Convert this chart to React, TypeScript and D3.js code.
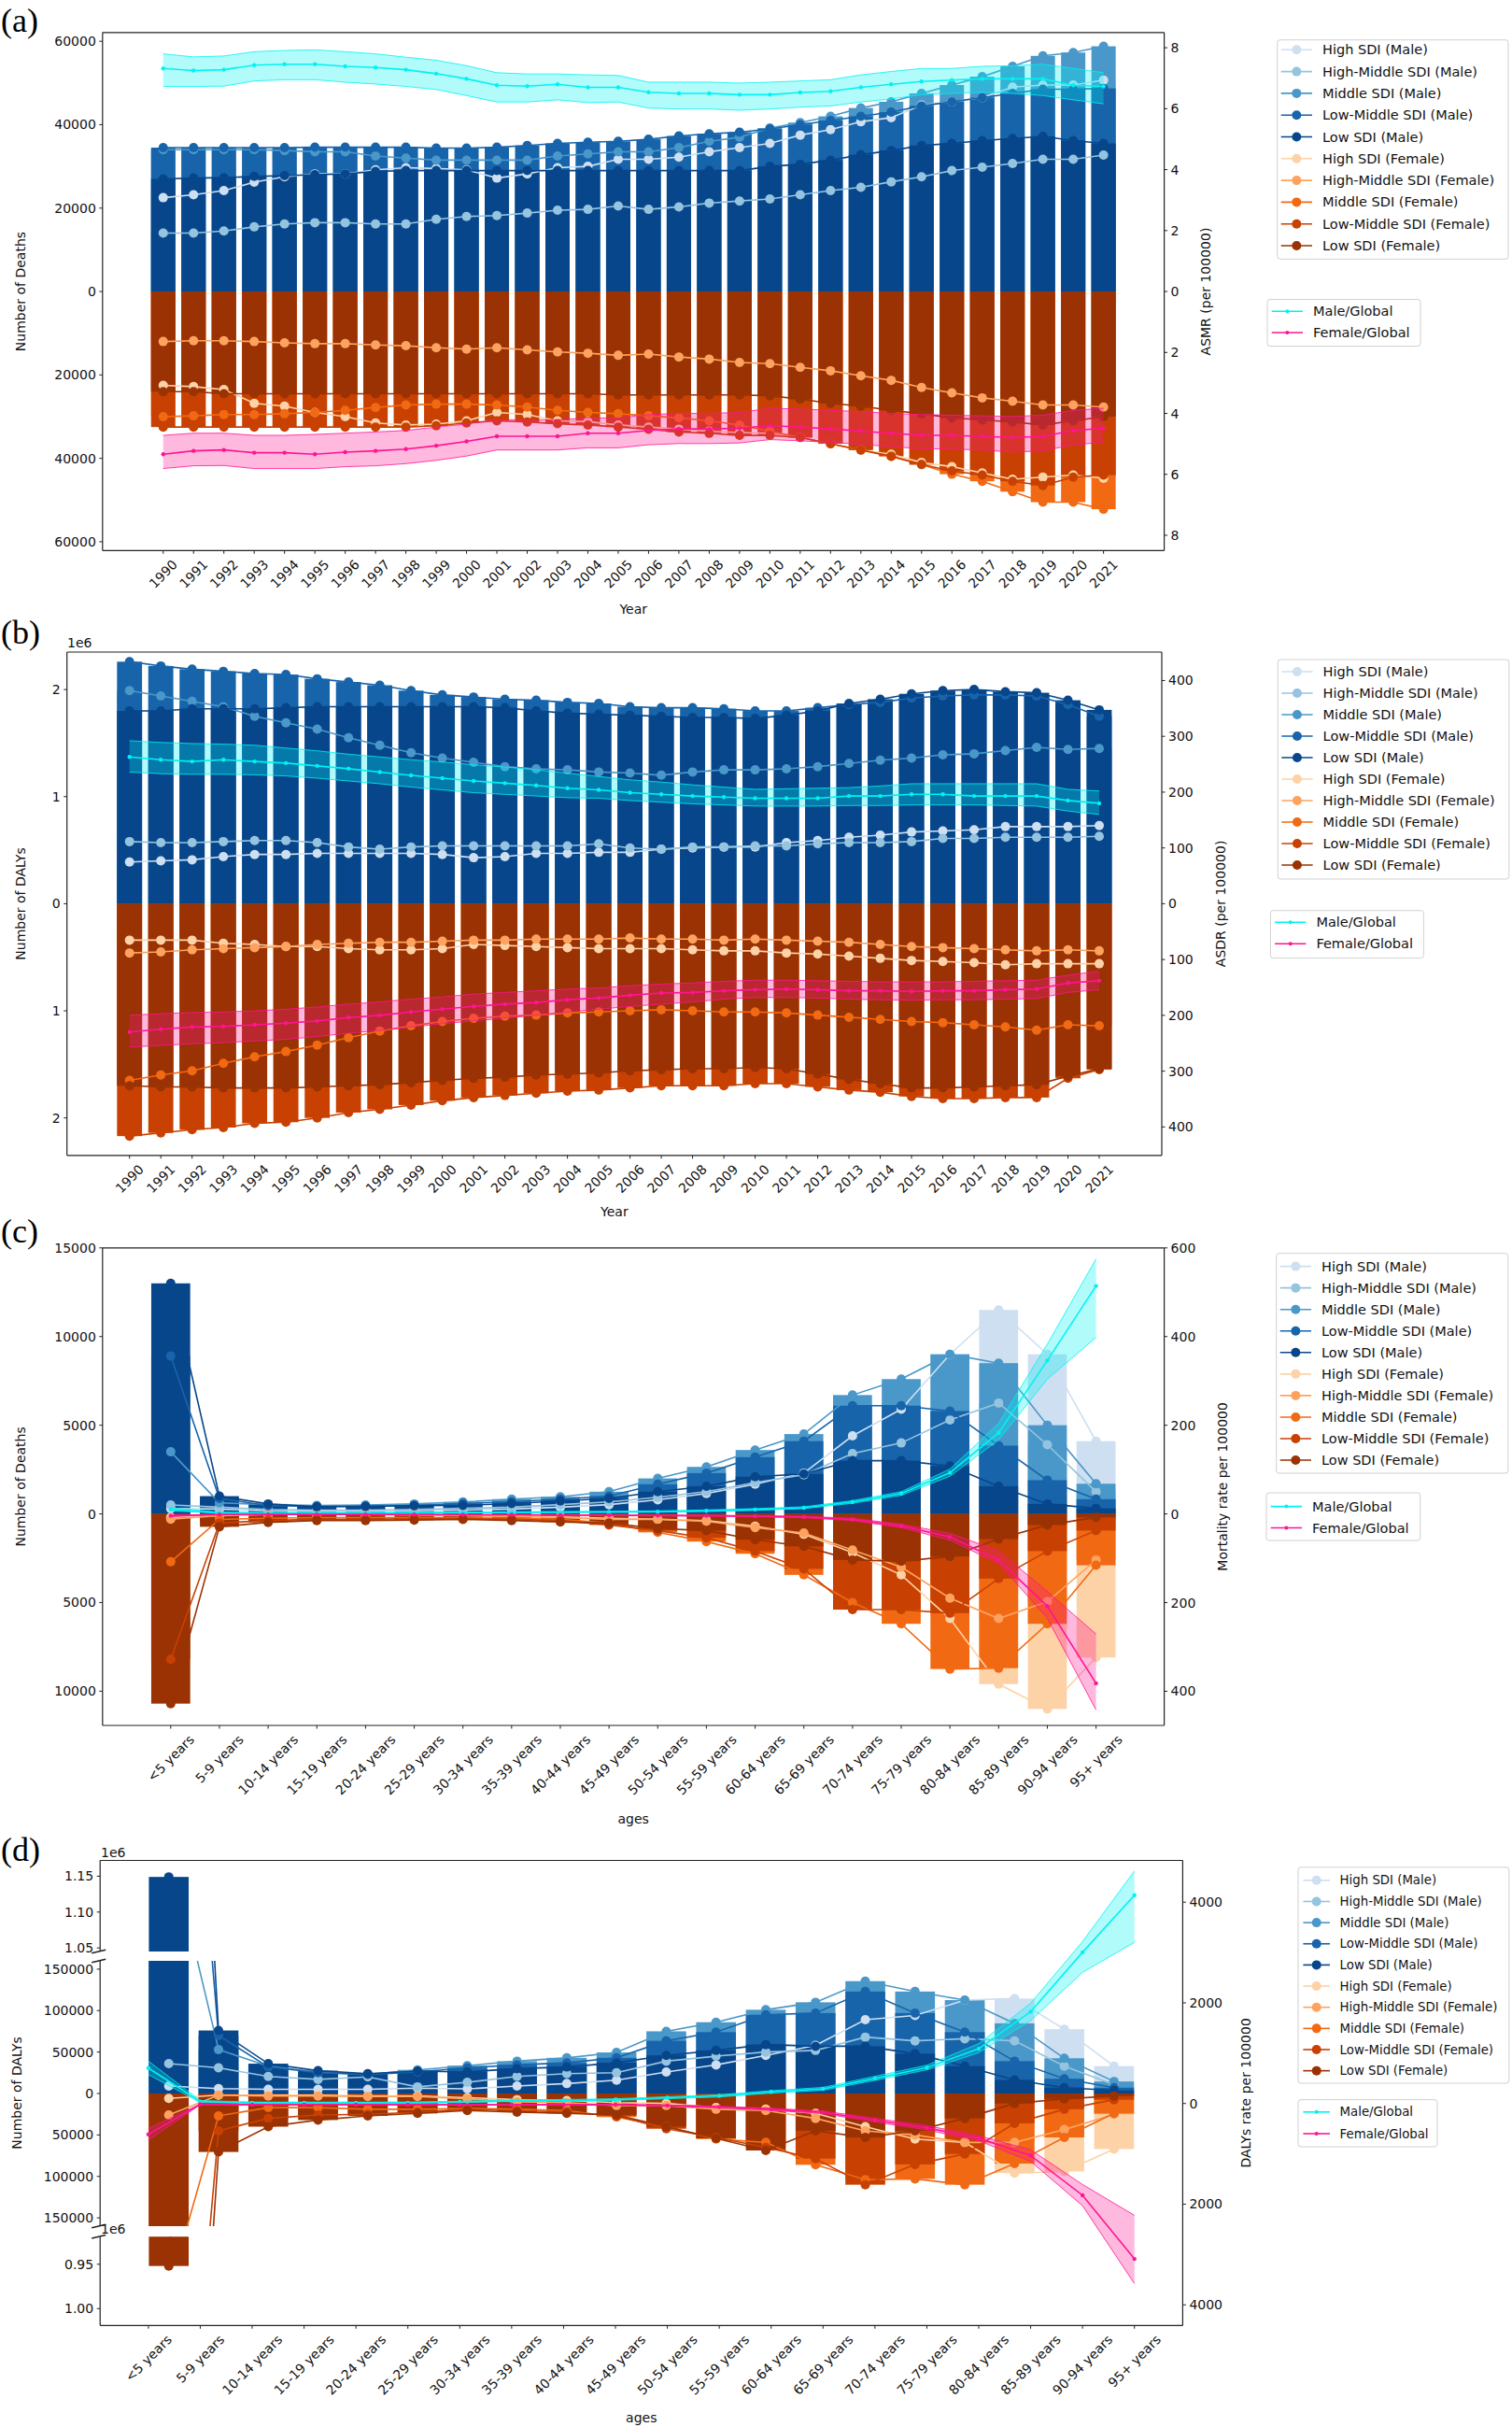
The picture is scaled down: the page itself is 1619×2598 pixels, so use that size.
import * as d3 from 'd3';
import * as React from 'react';

const W = 1619;
const H = 2598;
const SANS = "'DejaVu Sans', Verdana, sans-serif";
const SERIF = "'Liberation Serif', 'Times New Roman', serif";
const TICK_FS = 14;

const YEARS = d3.range(1990, 2022).map(String);
const AGES = [
  '<5 years', '5-9 years', '10-14 years', '15-19 years', '20-24 years', '25-29 years',
  '30-34 years', '35-39 years', '40-44 years', '45-49 years', '50-54 years', '55-59 years',
  '60-64 years', '65-69 years', '70-74 years', '75-79 years', '80-84 years', '85-89 years',
  '90-94 years', '95+ years',
];
const SDI_NAMES = ['High SDI', 'High-Middle SDI', 'Middle SDI', 'Low-Middle SDI', 'Low SDI'];
const BLUES = ['#cddff1', '#94c4df', '#4a98c9', '#1764ab', '#08468b'];
const ORANGES = ['#fdd2a7', '#fda35f', '#f16913', '#c84102', '#9a3203'];
const CYAN = '#00f2f2';
const PINK = '#ff1493';

// (a) deaths by year
const aHighM = [22500, 23200, 24200, 26200, 27500, 28200, 28200, 29200, 29700, 29500, 29200, 27200, 28200, 29700, 30000, 31700, 31700, 32200, 33500, 34500, 35500, 37500, 38800, 40700, 41700, 44700, 45500, 46500, 49000, 49500, 49500, 50700];
const aHMidM = [14000, 14000, 14500, 15500, 16200, 16500, 16500, 16200, 16200, 17300, 18000, 18200, 18800, 19500, 19700, 20500, 19700, 20300, 21200, 21700, 22200, 23200, 24200, 25000, 26300, 27500, 29000, 29800, 30700, 31700, 31700, 32700];
const aMidM = [34000, 34000, 34000, 34000, 33800, 33500, 33500, 32500, 32000, 31500, 31500, 31500, 31500, 32500, 33000, 33500, 33500, 34500, 36000, 37000, 39200, 40500, 42000, 44000, 45500, 47500, 49500, 51500, 54000, 56500, 57300, 58800];
const aLMidM = [34500, 34500, 34500, 34500, 34500, 34600, 34600, 34600, 34600, 34400, 34400, 34600, 35000, 35500, 35800, 36000, 36500, 37300, 37800, 38200, 39000, 40000, 41000, 42000, 43000, 44500, 45500, 46500, 47500, 48500, 48500, 48700];
const aLowM = [27000, 27200, 27300, 27600, 27800, 28000, 28200, 28800, 29000, 29000, 29000, 29000, 29000, 29000, 29000, 29000, 29000, 29000, 29000, 29000, 30000, 30500, 31500, 32800, 33800, 35000, 35500, 36200, 36700, 37200, 36200, 35500];
const aHighF = [22500, 22800, 23500, 26800, 27500, 29000, 30000, 31500, 32000, 31800, 31000, 29000, 29500, 31000, 31200, 32000, 32500, 33000, 33500, 33800, 34000, 35000, 36500, 38000, 39000, 41000, 42000, 43500, 45000, 44500, 44000, 44800];
const aHMidF = [12000, 11800, 11800, 12000, 12300, 12500, 12500, 12800, 13000, 13500, 13800, 13500, 14000, 14500, 14800, 15300, 15000, 15700, 16200, 17000, 17300, 18200, 19000, 20200, 21300, 23000, 24300, 25500, 26300, 27200, 27200, 27700];
const aMidF = [30000, 29800, 29500, 29500, 29300, 29000, 28500, 27800, 27200, 27000, 27000, 27200, 27700, 28500, 29000, 29300, 29800, 30300, 31000, 32000, 33500, 35000, 36500, 38000, 39500, 41500, 43800, 45500, 48000, 50500, 50500, 52200];
const aLMidF = [32500, 32500, 32500, 32500, 32500, 32500, 32500, 32500, 32500, 32200, 31500, 31000, 31300, 31700, 32000, 32500, 33000, 33700, 34000, 34500, 34500, 35000, 36500, 38000, 39500, 41500, 43000, 44000, 45500, 46500, 44500, 44000];
const aLowF = [24000, 24000, 24500, 24500, 24500, 24500, 24500, 24500, 24500, 24500, 24500, 24500, 24500, 24500, 24500, 24800, 24800, 24800, 24800, 24800, 25000, 25800, 26800, 27500, 28500, 29300, 30300, 30800, 31300, 32000, 31000, 30000];
const aAsmrM = [7.32, 7.25, 7.28, 7.43, 7.46, 7.46, 7.39, 7.35, 7.28, 7.15, 6.98, 6.77, 6.74, 6.8, 6.7, 6.7, 6.54, 6.5, 6.5, 6.46, 6.46, 6.53, 6.57, 6.7, 6.8, 6.89, 6.94, 6.98, 6.98, 6.98, 6.77, 6.73];
const aAsmrMHi = [7.8, 7.7, 7.73, 7.87, 7.91, 7.93, 7.87, 7.8, 7.69, 7.59, 7.41, 7.18, 7.14, 7.14, 7.11, 7.09, 6.87, 6.87, 6.87, 6.84, 6.87, 6.91, 6.95, 7.11, 7.22, 7.32, 7.32, 7.39, 7.41, 7.46, 7.32, 7.18];
const aAsmrMLo = [6.73, 6.73, 6.74, 6.91, 6.95, 6.95, 6.87, 6.81, 6.73, 6.63, 6.43, 6.22, 6.22, 6.29, 6.2, 6.22, 6.02, 5.99, 5.99, 5.95, 5.99, 6.05, 6.09, 6.22, 6.32, 6.46, 6.5, 6.54, 6.5, 6.43, 6.29, 6.16];
const aAsmrF = [5.34, 5.23, 5.2, 5.29, 5.29, 5.34, 5.27, 5.23, 5.17, 5.06, 4.92, 4.75, 4.75, 4.75, 4.65, 4.65, 4.56, 4.51, 4.51, 4.49, 4.4, 4.45, 4.51, 4.58, 4.65, 4.72, 4.72, 4.76, 4.79, 4.76, 4.56, 4.49];
const aAsmrFHi = [4.72, 4.65, 4.65, 4.72, 4.72, 4.69, 4.65, 4.61, 4.56, 4.45, 4.35, 4.21, 4.21, 4.21, 4.15, 4.15, 4.04, 4.0, 4.0, 3.97, 3.83, 3.86, 3.9, 3.94, 4.0, 4.04, 4.06, 4.08, 4.1, 4.06, 3.9, 3.83];
const aAsmrFLo = [5.81, 5.72, 5.71, 5.81, 5.81, 5.81, 5.75, 5.72, 5.65, 5.54, 5.4, 5.2, 5.2, 5.2, 5.13, 5.13, 5.03, 4.99, 4.99, 4.97, 4.86, 4.9, 4.95, 5.02, 5.09, 5.16, 5.17, 5.2, 5.27, 5.23, 5.03, 4.95];

// (b) DALYs by year, millions
const bHighM = [0.39, 0.4, 0.41, 0.44, 0.46, 0.46, 0.47, 0.47, 0.47, 0.47, 0.46, 0.43, 0.44, 0.47, 0.47, 0.48, 0.48, 0.51, 0.52, 0.53, 0.53, 0.57, 0.59, 0.62, 0.64, 0.67, 0.68, 0.69, 0.72, 0.72, 0.72, 0.73];
const bHMidM = [0.58, 0.57, 0.57, 0.58, 0.59, 0.59, 0.57, 0.53, 0.51, 0.53, 0.54, 0.54, 0.54, 0.54, 0.54, 0.56, 0.52, 0.51, 0.53, 0.53, 0.54, 0.54, 0.56, 0.57, 0.57, 0.58, 0.61, 0.61, 0.62, 0.62, 0.62, 0.63];
const bMidM = [1.99, 1.94, 1.89, 1.84, 1.75, 1.69, 1.63, 1.55, 1.48, 1.41, 1.36, 1.32, 1.28, 1.26, 1.25, 1.23, 1.22, 1.2, 1.23, 1.25, 1.25, 1.26, 1.28, 1.31, 1.34, 1.36, 1.39, 1.4, 1.43, 1.46, 1.44, 1.45];
const bLMidM = [2.26, 2.22, 2.19, 2.17, 2.15, 2.14, 2.1, 2.07, 2.04, 1.99, 1.95, 1.93, 1.91, 1.9, 1.88, 1.87, 1.84, 1.83, 1.83, 1.82, 1.8, 1.8, 1.83, 1.86, 1.88, 1.92, 1.94, 1.95, 1.95, 1.94, 1.86, 1.75];
const bLowM = [1.8, 1.8, 1.82, 1.82, 1.82, 1.83, 1.84, 1.84, 1.84, 1.84, 1.84, 1.84, 1.83, 1.8, 1.78, 1.77, 1.76, 1.75, 1.74, 1.74, 1.73, 1.76, 1.8, 1.87, 1.91, 1.96, 1.99, 2.0, 1.98, 1.97, 1.9, 1.81];
const bHighF = [0.34, 0.34, 0.34, 0.37, 0.38, 0.4, 0.4, 0.42, 0.43, 0.43, 0.42, 0.38, 0.39, 0.4, 0.41, 0.42, 0.42, 0.42, 0.43, 0.44, 0.44, 0.46, 0.47, 0.49, 0.51, 0.53, 0.54, 0.55, 0.57, 0.56, 0.56, 0.56];
const bHMidF = [0.46, 0.45, 0.43, 0.42, 0.41, 0.4, 0.38, 0.37, 0.36, 0.36, 0.35, 0.34, 0.34, 0.33, 0.33, 0.33, 0.32, 0.33, 0.33, 0.34, 0.33, 0.34, 0.35, 0.36, 0.38, 0.4, 0.41, 0.42, 0.43, 0.44, 0.43, 0.44];
const bMidF = [1.65, 1.6, 1.56, 1.49, 1.43, 1.38, 1.32, 1.25, 1.19, 1.14, 1.1, 1.07, 1.05, 1.04, 1.02, 1.01, 1.0, 0.99, 1.0, 1.01, 1.01, 1.02, 1.04, 1.06, 1.08, 1.1, 1.11, 1.13, 1.15, 1.18, 1.13, 1.14];
const bLMidF = [2.17, 2.14, 2.11, 2.09, 2.05, 2.04, 2.0, 1.95, 1.92, 1.88, 1.84, 1.81, 1.79, 1.77, 1.75, 1.74, 1.72, 1.7, 1.7, 1.7, 1.68, 1.68, 1.71, 1.74, 1.76, 1.8, 1.82, 1.82, 1.81, 1.81, 1.63, 1.55];
const bLowF = [1.7, 1.71, 1.71, 1.72, 1.72, 1.72, 1.71, 1.7, 1.69, 1.67, 1.65, 1.63, 1.62, 1.6, 1.59, 1.58, 1.56, 1.55, 1.54, 1.54, 1.53, 1.54, 1.59, 1.64, 1.68, 1.72, 1.72, 1.71, 1.7, 1.69, 1.61, 1.54];
const bAsdrM = [263, 258, 255, 258, 255, 252, 247, 242, 236, 230, 225, 220, 216, 212, 207, 204, 199, 196, 193, 191, 189, 189, 189, 193, 193, 196, 196, 193, 193, 193, 185, 180];
const bAsdrMHi = [292, 289, 287, 286, 284, 279, 274, 268, 263, 258, 254, 249, 245, 240, 234, 228, 222, 218, 213, 209, 205, 206, 207, 208, 211, 215, 215, 215, 215, 215, 205, 202];
const bAsdrMLo = [236, 233, 232, 232, 231, 229, 225, 220, 215, 209, 204, 199, 196, 193, 190, 189, 185, 182, 179, 177, 175, 175, 175, 176, 176, 177, 177, 177, 176, 175, 166, 160];
const bAsdrF = [230, 225, 221, 220, 217, 214, 210, 204, 200, 194, 189, 184, 180, 177, 172, 169, 164, 160, 159, 156, 154, 153, 154, 156, 156, 157, 156, 156, 154, 153, 142, 138];
const bAsdrFHi = [200, 197, 195, 194, 192, 189, 185, 180, 176, 171, 167, 162, 159, 156, 153, 151, 147, 144, 142, 139, 137, 137, 138, 139, 140, 140, 140, 139, 138, 137, 128, 121];
const bAsdrFLo = [257, 254, 251, 249, 246, 243, 238, 232, 227, 221, 215, 210, 205, 200, 194, 189, 184, 180, 176, 171, 168, 168, 169, 171, 172, 173, 172, 172, 171, 170, 159, 154];

// (c) deaths by age group
const cHighM = [300, 270, 170, 150, 150, 170, 210, 270, 375, 520, 790, 1150, 1670, 2300, 4400, 5900, 9000, 11500, 9000, 4100];
const cHMidM = [500, 375, 250, 210, 210, 250, 310, 375, 520, 670, 940, 1250, 1770, 2200, 3400, 4000, 5300, 6250, 3900, 1250];
const cMidM = [3500, 625, 520, 480, 500, 560, 670, 830, 960, 1250, 2000, 2650, 3600, 4500, 6700, 7600, 9000, 8500, 5000, 1700];
const cLMidM = [8900, 875, 460, 420, 420, 480, 580, 690, 830, 1000, 1670, 2300, 3200, 4100, 6100, 6100, 5800, 3850, 1900, 830];
const cLowM = [13000, 1000, 560, 400, 420, 460, 480, 580, 730, 875, 1250, 1560, 2100, 2250, 3000, 3000, 2700, 1560, 560, 310];
const cHighF = [200, 50, 40, 30, 30, 40, 60, 100, 170, 250, 300, 380, 700, 1150, 2190, 3440, 5900, 9600, 11000, 8100];
const cHMidF = [300, 100, 40, 40, 40, 60, 100, 150, 210, 310, 310, 420, 770, 1080, 2040, 3000, 4750, 5900, 4950, 2600];
const cMidF = [2700, 310, 250, 210, 210, 210, 210, 250, 310, 520, 1040, 1560, 2250, 3440, 5000, 6200, 8750, 8700, 6200, 2900];
const cLMidF = [8200, 520, 375, 310, 310, 270, 270, 310, 375, 625, 940, 1350, 2100, 3100, 5400, 5400, 5600, 3650, 2100, 940];
const cLowF = [10700, 730, 480, 375, 375, 355, 310, 375, 460, 520, 830, 940, 1460, 1830, 2600, 2670, 2400, 1420, 625, 200];
const cRateM = [10, 2.5, 2, 2, 2, 2.5, 3, 3.5, 4, 4.5, 5, 7, 10, 14, 27, 46, 93, 183, 346, 514];
const cRateMHi = [14, 4, 3, 3, 3, 3.5, 4, 5, 5.5, 6, 7, 9, 12, 16, 30, 50, 101, 204, 383, 575];
const cRateMLo = [7, 1.5, 1.2, 1.2, 1.3, 1.7, 2, 2.5, 3, 3.5, 4, 5.5, 8, 12, 24, 42, 85, 167, 304, 398];
const cRateF = [4, 1.5, 1.2, 1.2, 1.2, 1.5, 2, 2, 2.5, 3, 3.5, 4, 5, 7, 12.5, 27, 52, 104, 208, 382];
const cRateFHi = [2.5, 1, 0.8, 0.8, 0.8, 1, 1.3, 1.5, 1.8, 2.2, 2.7, 3, 4, 5.5, 10, 23, 44, 83, 175, 271];
const cRateFLo = [6, 2, 1.6, 1.6, 1.6, 2, 2.5, 2.7, 3.2, 4, 4.5, 5, 6.5, 8.5, 15, 31, 59, 112, 235, 442];

// (d) DALYs by age group
const dHighM = [9000, 6000, 5000, 5000, 5000, 6500, 5600, 9000, 12000, 16000, 26000, 34500, 46000, 58000, 89000, 94000, 112600, 114500, 77600, 33000];
const dHMidM = [36000, 31000, 20500, 17000, 20000, 8000, 13500, 20500, 24000, 25000, 39000, 45000, 50000, 52000, 68000, 63500, 66000, 63500, 33000, 10700];
const dMidM = [305000, 53000, 33000, 26000, 23000, 28500, 33600, 39000, 43000, 49500, 75000, 86000, 101000, 110000, 135500, 123000, 112600, 84600, 42500, 14500];
const dLMidM = [780000, 70000, 32000, 25000, 23000, 26000, 31000, 34500, 37000, 43000, 63500, 74000, 95000, 97000, 123000, 97000, 74000, 39000, 17800, 7000];
const dLowM = [1149000, 76000, 36000, 27500, 24000, 27000, 26000, 30000, 32000, 37000, 46000, 52000, 59000, 57000, 57000, 48000, 33000, 16400, 7000, 3700];
const dHighF = [6000, 2000, 2000, 2000, 2800, 2800, 5000, 7500, 8500, 11000, 12000, 17000, 19000, 24000, 40000, 55000, 59000, 96000, 94000, 67000];
const dHMidF = [26000, 2000, 3000, 3000, 3700, 3700, 6500, 10000, 11000, 14500, 14500, 19000, 20500, 30000, 45000, 50000, 59000, 59000, 43500, 25000];
const dMidF = [238000, 27000, 17000, 17000, 19000, 19000, 18000, 19000, 20500, 28500, 40000, 55000, 59000, 86000, 104000, 103000, 110000, 84600, 53000, 24000];
const dLMidF = [720000, 45000, 30000, 26000, 25000, 22500, 19000, 20500, 22500, 27000, 42500, 53000, 65000, 78500, 110000, 85500, 73000, 36000, 19000, 7500];
const dLowF = [952000, 70500, 40000, 32000, 27000, 24000, 20500, 22500, 24000, 26000, 40000, 54000, 68700, 45000, 53000, 45000, 30000, 12000, 6500, 3000];
const dRateM = [705, 38, 15, 15, 15, 15, 31, 54, 61, 77, 115, 153, 230, 291, 498, 713, 1088, 1824, 3004, 4138];
const dRateMHi = [843, 60, 30, 28, 28, 30, 45, 70, 80, 95, 135, 175, 255, 320, 540, 760, 1188, 1992, 3218, 4620];
const dRateMLo = [575, 20, 5, 5, 5, 5, 18, 40, 45, 60, 95, 130, 205, 265, 460, 670, 1011, 1648, 2605, 3203];
const dRateF = [613, 15, 23, 23, 23, 23, 23, 23, 23, 25, 40, 70, 115, 176, 330, 483, 690, 1034, 1824, 3088];
const dRateFHi = [498, 8, 15, 15, 15, 15, 15, 15, 15, 17, 30, 55, 95, 150, 295, 440, 640, 920, 1609, 2222];
const dRateFLo = [728, 22, 30, 30, 30, 30, 30, 30, 30, 33, 50, 85, 135, 200, 365, 525, 740, 1150, 2031, 3579];

// rough DejaVu Sans advance widths (em) for label layout
const CHAR_W: Record<string, number> = {
  '0': 0.636, '1': 0.636, '2': 0.636, '3': 0.636, '4': 0.636, '5': 0.636, '6': 0.636,
  '7': 0.636, '8': 0.636, '9': 0.636, ' ': 0.318, '<': 0.838, '+': 0.838, '-': 0.361,
  y: 0.592, e: 0.615, a: 0.613, r: 0.411, s: 0.521,
};
const textWidth = (s: string, fs: number) =>
  s.split('').reduce((acc, ch) => acc + (CHAR_W[ch] ?? 0.6), 0) * fs;

interface Seg {
  y: d3.ScaleLinear<number, number>;
  top: number;
  bottom: number;
}
interface Tick {
  seg: number;
  v: number;
  label: string;
}
interface LegendBox {
  x0: number; y0: number; x1: number; y1: number;
  row0: number; step: number; fs: number; textDx: number; lineDx0: number; lineDx1: number;
}
interface PanelSpec {
  id: string;
  frame: { left: number; right: number; top: number; bottom: number };
  xBar: d3.ScaleLinear<number, number>;
  xGlob: d3.ScaleLinear<number, number>;
  segs: Seg[];
  yRight: d3.ScaleLinear<number, number>;
  male: number[][];
  female: number[][];
  gMale: number[][];
  gFemale: number[][];
  cats: string[];
  leftTicks: Tick[];
  rightTicks: number[];
  offsets: { x: number; y: number }[];
  letter: { text: string; y: number };
  yLabel: { text: string; x: number };
  yRightLabel: { text: string; x: number };
  xLabel: { text: string; y: number };
  legend1: LegendBox;
  legend2: LegendBox;
}

const absTicks = (vals: number[], fmt = (v: number) => String(Math.abs(v))) =>
  vals.map(v => ({ seg: 0, v, label: fmt(v) }));

const aFrame = { left: 109.8, right: 1246.6, top: 34.8, bottom: 589.3 };
const bFrame = { left: 71.7, right: 1244, top: 698, bottom: 1236.8 };
const cFrame = { left: 109.8, right: 1246.6, top: 1335.8, bottom: 1847 };
const dFrame = { left: 107.2, right: 1266.4, top: 1991.5, bottom: 2489.3 };

const bigLegend = (x0: number, y0: number, x1: number, y1: number, row0: number, step: number, fs = 14.5, textDx = 48.3, lineDx0 = 4, lineDx1 = 37.3): LegendBox =>
  ({ x0, y0, x1, y1, row0, step, fs, textDx, lineDx0, lineDx1 });

const xA = d3.scaleLinear().domain([-2, 33]).range([aFrame.left, aFrame.right]);
const xB = d3.scaleLinear().domain([-2, 33]).range([bFrame.left, bFrame.right]);
const xC = d3.scaleLinear().domain([-1.4, 20.4]).range([cFrame.left, cFrame.right]);
const xDBar = d3.scaleLinear().domain([-1.38, 20.38]).range([dFrame.left, dFrame.right]);
const xDGlob = d3.scaleLinear().domain([-0.93, 19.93]).range([dFrame.left, dFrame.right]);

const PANELS: PanelSpec[] = [
  {
    id: 'pa',
    frame: aFrame,
    xBar: xA,
    xGlob: xA,
    segs: [{ y: d3.scaleLinear().domain([-62100, 62100]).range([aFrame.bottom, aFrame.top]), top: aFrame.top, bottom: aFrame.bottom }],
    yRight: d3.scaleLinear().domain([-8.5, 8.5]).range([aFrame.bottom, aFrame.top]),
    male: [aHighM, aHMidM, aMidM, aLMidM, aLowM],
    female: [aHighF, aHMidF, aMidF, aLMidF, aLowF],
    gMale: [aAsmrM, aAsmrMLo, aAsmrMHi],
    gFemale: [aAsmrF, aAsmrFHi, aAsmrFLo],
    cats: YEARS,
    leftTicks: absTicks(d3.range(-60000, 60001, 20000)),
    rightTicks: d3.range(-8, 9, 2),
    offsets: [],
    letter: { text: '(a)', y: 34 },
    yLabel: { text: 'Number of Deaths', x: 22 },
    yRightLabel: { text: 'ASMR (per 100000)', x: 1291 },
    xLabel: { text: 'Year', y: 652 },
    legend1: bigLegend(1367.7, 42.7, 1615, 277.3, 53.3, 23.3),
    legend2: bigLegend(1357, 320.5, 1521, 370.5, 333.3, 22.7, 14.5, 49, 4.7, 38),
  },
  {
    id: 'pb',
    frame: bFrame,
    xBar: xB,
    xGlob: xB,
    segs: [{ y: d3.scaleLinear().domain([-2.35, 2.35]).range([bFrame.bottom, bFrame.top]), top: bFrame.top, bottom: bFrame.bottom }],
    yRight: d3.scaleLinear().domain([-451, 451]).range([bFrame.bottom, bFrame.top]),
    male: [bHighM, bHMidM, bMidM, bLMidM, bLowM],
    female: [bHighF, bHMidF, bMidF, bLMidF, bLowF],
    gMale: [bAsdrM, bAsdrMLo, bAsdrMHi],
    gFemale: [bAsdrF, bAsdrFHi, bAsdrFLo],
    cats: YEARS,
    leftTicks: absTicks([-2, -1, 0, 1, 2]),
    rightTicks: d3.range(-400, 401, 100),
    offsets: [{ x: 72, y: 693 }],
    letter: { text: '(b)', y: 689 },
    yLabel: { text: 'Number of DALYs', x: 22 },
    yRightLabel: { text: 'ASDR (per 100000)', x: 1307 },
    xLabel: { text: 'Year', y: 1297 },
    legend1: bigLegend(1368.3, 706, 1615.8, 941, 719, 23.0),
    legend2: bigLegend(1360.4, 974.7, 1524.4, 1025.6, 987.3, 23, 14.5, 49, 4.7, 38),
  },
  {
    id: 'pc',
    frame: cFrame,
    xBar: xC,
    xGlob: xC,
    segs: [{ y: d3.scaleLinear().domain([-11930, 15000]).range([cFrame.bottom, cFrame.top]), top: cFrame.top, bottom: cFrame.bottom }],
    yRight: d3.scaleLinear().domain([-477, 600]).range([cFrame.bottom, cFrame.top]),
    male: [cHighM, cHMidM, cMidM, cLMidM, cLowM],
    female: [cHighF, cHMidF, cMidF, cLMidF, cLowF],
    gMale: [cRateM, cRateMLo, cRateMHi],
    gFemale: [cRateF, cRateFHi, cRateFLo],
    cats: AGES,
    leftTicks: absTicks(d3.range(-10000, 15001, 5000)),
    rightTicks: d3.range(-400, 601, 200),
    offsets: [],
    letter: { text: '(c)', y: 1330 },
    yLabel: { text: 'Number of Deaths', x: 22 },
    yRightLabel: { text: 'Mortality rate per 100000', x: 1309 },
    xLabel: { text: 'ages', y: 1947 },
    legend1: bigLegend(1366.7, 1341.7, 1614.8, 1577, 1355.6, 23.05),
    legend2: bigLegend(1356, 1598, 1520.8, 1649, 1612.6, 22.9, 14.5, 49, 4.7, 38),
  },
  {
    id: 'pd',
    frame: dFrame,
    xBar: xDBar,
    xGlob: xDGlob,
    segs: [
      { y: d3.scaleLinear().domain([1.045e6, 1.172e6]).range([2089, dFrame.top]), top: dFrame.top, bottom: 2089 },
      { y: d3.scaleLinear().domain([-160000, 160000]).range([2383, 2099]), top: 2099, bottom: 2383 },
      { y: d3.scaleLinear().domain([-1.019e6, -0.919e6]).range([dFrame.bottom, 2394.3]), top: 2394.3, bottom: dFrame.bottom },
    ],
    yRight: d3.scaleLinear().domain([-4410, 4830]).range([dFrame.bottom, dFrame.top]),
    male: [dHighM, dHMidM, dMidM, dLMidM, dLowM],
    female: [dHighF, dHMidF, dMidF, dLMidF, dLowF],
    gMale: [dRateM, dRateMLo, dRateMHi],
    gFemale: [dRateF, dRateFHi, dRateFLo],
    cats: AGES,
    leftTicks: [
      { seg: 0, v: 1.05e6, label: '1.05' },
      { seg: 0, v: 1.1e6, label: '1.10' },
      { seg: 0, v: 1.15e6, label: '1.15' },
      ...d3.range(-150000, 150001, 50000).map(v => ({ seg: 1, v, label: String(Math.abs(v)) })),
      { seg: 2, v: -0.95e6, label: '0.95' },
      { seg: 2, v: -1.0e6, label: '1.00' },
    ],
    rightTicks: d3.range(-4000, 4001, 2000),
    offsets: [{ x: 108, y: 1988 }, { x: 108, y: 2391 }],
    letter: { text: '(d)', y: 1992 },
    yLabel: { text: 'Number of DALYs', x: 18 },
    yRightLabel: { text: 'DALYs rate per 100000', x: 1334 },
    xLabel: { text: 'ages', y: 2588 },
    legend1: bigLegend(1390, 1998.8, 1615.8, 2230, 2012.8, 22.65, 13.3, 44.6, 5.4, 34),
    legend2: bigLegend(1390, 2247.6, 1539, 2298, 2260.8, 23.2, 13.3, 44.6, 5.4, 34),
  },
];

function Legend({ box, rows, markerR }: { box: LegendBox; rows: { label: string; color: string }[]; markerR: number }) {
  const lx0 = box.x0 + box.lineDx0;
  const lx1 = box.x0 + box.lineDx1;
  return (
    <g>
      <rect x={box.x0} y={box.y0} width={box.x1 - box.x0} height={box.y1 - box.y0} rx={3}
        fill="#fff" fillOpacity={0.8} stroke="#d0d0d0" strokeWidth={1} />
      {rows.map((r, i) => {
        const y = box.row0 + i * box.step;
        return (
          <g key={r.label}>
            <line x1={lx0} x2={lx1} y1={y} y2={y} stroke={r.color} strokeWidth={1.6} />
            <circle cx={(lx0 + lx1) / 2} cy={y} r={markerR} fill={r.color} />
            <text x={box.x0 + box.textDx} y={y} dominantBaseline="central" fontSize={box.fs} fontFamily={SANS} fill="#111">
              {r.label}
            </text>
          </g>
        );
      })}
    </g>
  );
}

function Panel({ p }: { p: PanelSpec }) {
  const f = p.frame;
  const bw = (p.xBar(1) - p.xBar(0)) * 0.8;
  const clipFrame = `${p.id}-frame`;

  const sdiLine = (vals: number[], sign: number, y: d3.ScaleLinear<number, number>) =>
    d3.line<number>().x((_, i) => p.xBar(i)).y(v => y(sign * v))(vals) ?? '';
  const globLine = (vals: number[], sign: number) =>
    d3.line<number>().x((_, i) => p.xGlob(i)).y(v => p.yRight(sign * v))(vals) ?? '';
  const globArea = (lo: number[], hi: number[], sign: number) =>
    d3.area<number>()
      .x((_, i) => p.xGlob(i))
      .y0((_, i) => p.yRight(sign * lo[i]))
      .y1((_, i) => p.yRight(sign * hi[i]))(lo) ?? '';

  const globals = [
    { data: p.gMale, sign: 1, color: CYAN },
    { data: p.gFemale, sign: -1, color: PINK },
  ];

  const legendRows = [
    ...SDI_NAMES.map((n, i) => ({ label: `${n} (Male)`, color: BLUES[i] })),
    ...SDI_NAMES.map((n, i) => ({ label: `${n} (Female)`, color: ORANGES[i] })),
  ];
  const midY = (f.top + f.bottom) / 2;
  const midX = (f.left + f.right) / 2;

  return (
    <g>
      <defs>
        {p.segs.map((s, k) => (
          <clipPath id={`${p.id}-seg${k}`} key={k}>
            <rect x={f.left} y={s.top} width={f.right - f.left} height={s.bottom - s.top} />
          </clipPath>
        ))}
        <clipPath id={clipFrame}>
          <rect x={f.left} y={f.top} width={f.right - f.left} height={f.bottom - f.top} />
        </clipPath>
      </defs>

      {/* bars and SDI lines on the count axis, one pass per axis segment */}
      {p.segs.map((s, k) => (
        <g key={k} clipPath={`url(#${p.id}-seg${k})`}>
          {SDI_NAMES.map((_, j) => (
            <g key={j}>
              {p.male[j].map((v, i) => (
                <rect key={`m${i}`} x={p.xBar(i) - bw / 2} y={s.y(v)} width={bw}
                  height={Math.max(0, s.y(0) - s.y(v))} fill={BLUES[j]} />
              ))}
              {p.female[j].map((v, i) => (
                <rect key={`f${i}`} x={p.xBar(i) - bw / 2} y={s.y(0)} width={bw}
                  height={Math.max(0, s.y(-v) - s.y(0))} fill={ORANGES[j]} />
              ))}
            </g>
          ))}
          {SDI_NAMES.map((_, j) => (
            <g key={`l${j}`}>
              <path d={sdiLine(p.male[j], 1, s.y)} fill="none" stroke={BLUES[j]} strokeWidth={1.6} />
              {p.male[j].map((v, i) => (
                <circle key={i} cx={p.xBar(i)} cy={s.y(v)} r={5} fill={BLUES[j]} />
              ))}
              <path d={sdiLine(p.female[j], -1, s.y)} fill="none" stroke={ORANGES[j]} strokeWidth={1.6} />
              {p.female[j].map((v, i) => (
                <circle key={i} cx={p.xBar(i)} cy={s.y(-v)} r={5} fill={ORANGES[j]} />
              ))}
            </g>
          ))}
        </g>
      ))}

      {/* global rates with uncertainty bands on the twin axis */}
      <g clipPath={`url(#${clipFrame})`}>
        {globals.map(g => (
          <g key={g.color}>
            <path d={globArea(g.data[1], g.data[2], g.sign)} fill={g.color} fillOpacity={0.3} />
            <path d={globLine(g.data[1], g.sign)} fill="none" stroke={g.color} strokeWidth={1} strokeOpacity={0.8} />
            <path d={globLine(g.data[2], g.sign)} fill="none" stroke={g.color} strokeWidth={1} strokeOpacity={0.8} />
            <path d={globLine(g.data[0], g.sign)} fill="none" stroke={g.color} strokeWidth={1.6} />
            {g.data[0].map((v, i) => (
              <circle key={i} cx={p.xGlob(i)} cy={p.yRight(g.sign * v)} r={2.2} fill={g.color} />
            ))}
          </g>
        ))}
      </g>

      {/* frame */}
      <g stroke="#222" strokeWidth={1.2} fill="none">
        <line x1={f.left} x2={f.right} y1={f.top} y2={f.top} />
        <line x1={f.left} x2={f.right} y1={f.bottom} y2={f.bottom} />
        <line x1={f.right} x2={f.right} y1={f.top} y2={f.bottom} />
        {p.segs.map((s, k) => (
          <line key={k} x1={f.left} x2={f.left} y1={s.top} y2={s.bottom} />
        ))}
        {p.segs.length > 1 && p.segs.flatMap((s, k) => {
          const marks: number[] = [];
          if (k > 0) marks.push(s.top);
          if (k < p.segs.length - 1) marks.push(s.bottom);
          return marks.map(y => (
            <line key={`${k}-${y}`} x1={f.left - 9} x2={f.left + 6} y1={y + 1.8} y2={y - 1.8} strokeWidth={1.5} />
          ));
        })}
      </g>

      {/* left ticks */}
      {p.leftTicks.map(t => {
        const y = p.segs[t.seg].y(t.v);
        return (
          <g key={`${t.seg}-${t.v}`}>
            <line x1={f.left - 3.5} x2={f.left} y1={y} y2={y} stroke="#222" strokeWidth={1} />
            <text x={f.left - 7} y={y} textAnchor="end" dominantBaseline="central" fontSize={TICK_FS} fontFamily={SANS} fill="#111">
              {t.label}
            </text>
          </g>
        );
      })}

      {/* right ticks */}
      {p.rightTicks.map(v => {
        const y = p.yRight(v);
        return (
          <g key={v}>
            <line x1={f.right} x2={f.right + 3.5} y1={y} y2={y} stroke="#222" strokeWidth={1} />
            <text x={f.right + 7} y={y} dominantBaseline="central" fontSize={TICK_FS} fontFamily={SANS} fill="#111">
              {String(Math.abs(v))}
            </text>
          </g>
        );
      })}

      {/* category ticks, labels rotated 45 degrees */}
      {p.cats.map((c, i) => {
        const x = p.xGlob(i);
        const side = (textWidth(c, TICK_FS) + TICK_FS * 1.1) * Math.SQRT1_2;
        const cy = f.bottom + 7 + side / 2;
        return (
          <g key={c}>
            <line x1={x} x2={x} y1={f.bottom} y2={f.bottom + 3.5} stroke="#222" strokeWidth={1} />
            <text transform={`translate(${x},${cy}) rotate(-45)`} textAnchor="middle" dominantBaseline="central"
              fontSize={TICK_FS} fontFamily={SANS} fill="#111">
              {c}
            </text>
          </g>
        );
      })}

      {p.offsets.map((o, i) => (
        <text key={i} x={o.x} y={o.y} fontSize={TICK_FS} fontFamily={SANS} fill="#111">1e6</text>
      ))}

      <text x={1} y={p.letter.y} fontSize={36} fontFamily={SERIF} fill="#000">{p.letter.text}</text>
      <text transform={`translate(${p.yLabel.x},${midY}) rotate(-90)`} textAnchor="middle" dominantBaseline="central"
        fontSize={TICK_FS} fontFamily={SANS} fill="#111">{p.yLabel.text}</text>
      <text transform={`translate(${p.yRightLabel.x},${midY}) rotate(-90)`} textAnchor="middle" dominantBaseline="central"
        fontSize={TICK_FS} fontFamily={SANS} fill="#111">{p.yRightLabel.text}</text>
      <text x={midX} y={p.xLabel.y} textAnchor="middle" dominantBaseline="central" fontSize={TICK_FS} fontFamily={SANS} fill="#111">
        {p.xLabel.text}
      </text>

      <Legend box={p.legend1} rows={legendRows} markerR={5} />
      <Legend box={p.legend2} rows={[{ label: 'Male/Global', color: CYAN }, { label: 'Female/Global', color: PINK }]} markerR={2} />
    </g>
  );
}

export default function App() {
  React.useEffect(() => {
    document.body.style.margin = '0';
  }, []);
  return (
    <div style={{ position: 'absolute', left: 0, top: 0, width: W, height: H, background: '#fff' }}>
      <svg width={W} height={H} viewBox={`0 0 ${W} ${H}`} style={{ display: 'block' }}>
        <rect width={W} height={H} fill="#fff" />
        {PANELS.map(p => <Panel key={p.id} p={p} />)}
      </svg>
    </div>
  );
}
